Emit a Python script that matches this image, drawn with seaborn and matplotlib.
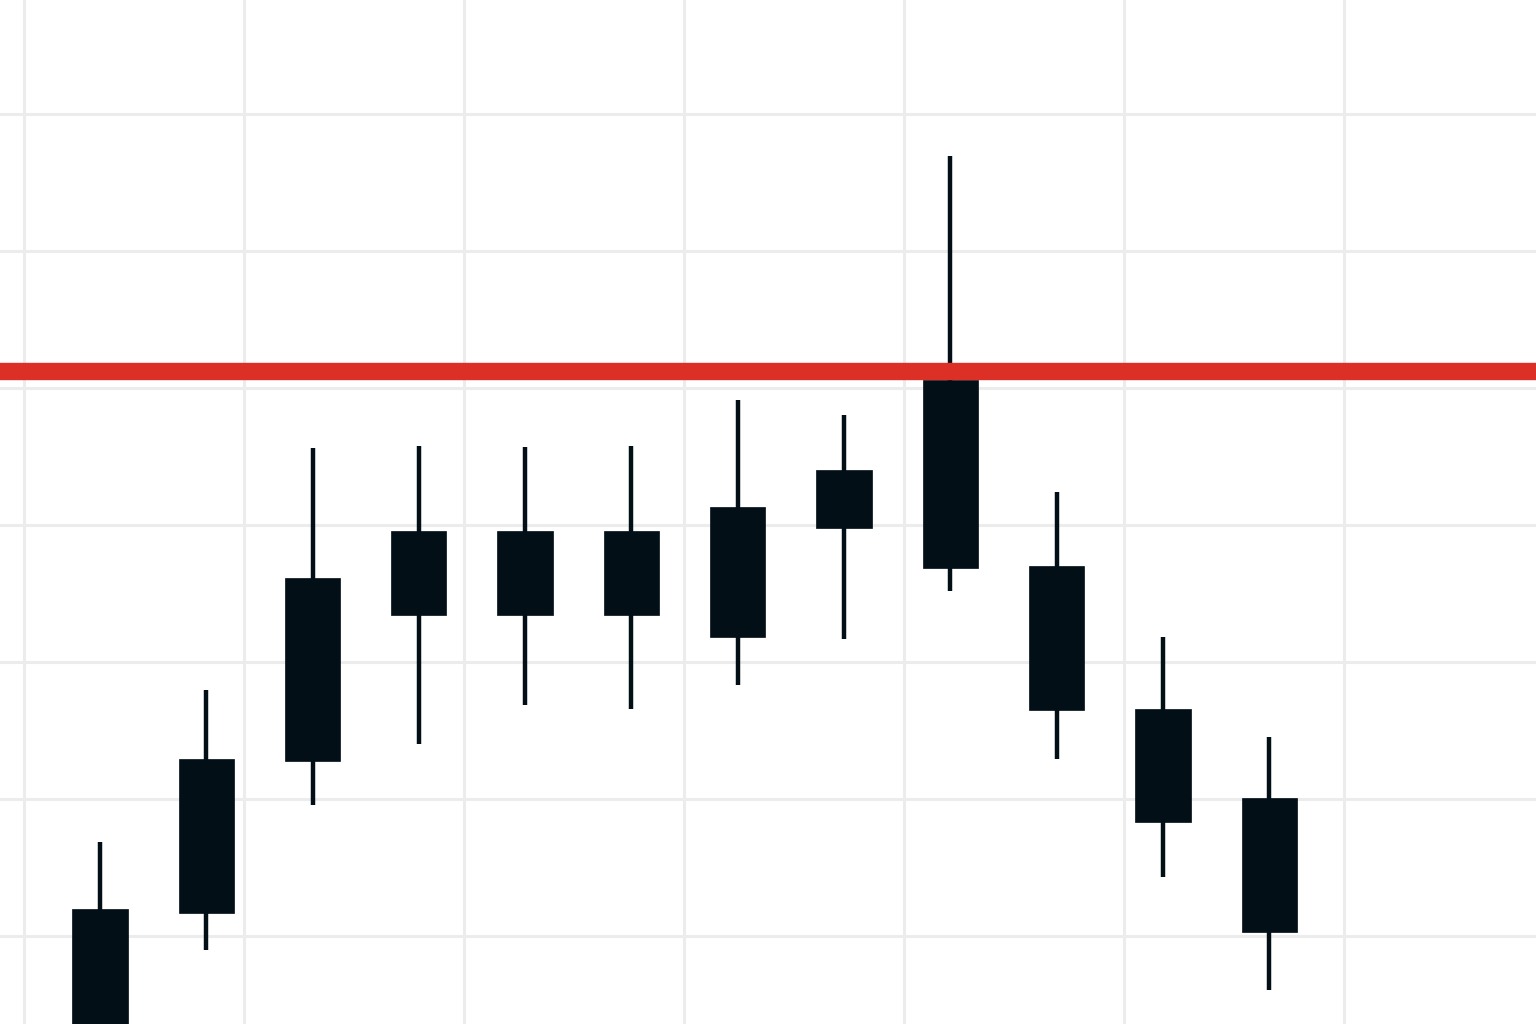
import numpy as np
import pandas as pd
import seaborn as sns
import matplotlib.pyplot as plt

# candle data
opens = [92.4, 101.7, 112.8, 123.4, 123.4, 123.4, 121.8, 129.8, 140.6, 127.0, 116.6, 110.1]
closes = [102.0, 112.9, 126.1, 129.6, 129.6, 129.6, 131.3, 134.0, 126.9, 116.5, 108.3, 100.3]
highs = [106.9, 118.0, 135.6, 135.8, 135.7, 135.8, 139.1, 138.0, 156.9, 132.4, 121.8, 114.5]
lows = [90.5, 99.0, 109.6, 114.0, 116.9, 116.6, 118.3, 121.7, 125.2, 112.9, 104.3, 96.1]
resistance = 141.2

df = pd.DataFrame({"open": opens, "close": closes, "high": highs, "low": lows})
df["x"] = np.arange(len(df))
df["bottom"] = df[["open", "close"]].min(axis=1)
df["height"] = (df["open"] - df["close"]).abs()

sns.set_theme(style="whitegrid", rc={"grid.color": "#ececec", "grid.linewidth": 2.2})

fig = plt.figure(figsize=(15.36, 10.24), dpi=100)
ax = fig.add_axes([0, 0, 1, 1])

body_color = "#020f16"
ax.vlines(df["x"], df["low"], df["high"], color=body_color, linewidth=3.2, zorder=2)
ax.bar(df["x"], df["height"], bottom=df["bottom"], width=0.52,
       color=body_color, edgecolor=body_color, linewidth=0.5, zorder=3)
ax.axhline(resistance, color="#dc2f25", linewidth=12.5, zorder=4)

# grid positions (ticks first, limits after so ticks don't widen the view)
ax.set_xticks(np.arange(-0.715, 14, 2.07))
ax.set_yticks(np.arange(100, 170, 10))
ax.set_xlim(-0.94, 13.51)
ax.set_ylim(93.6, 168.3)
ax.tick_params(labelbottom=False, labelleft=False, length=0)
ax.set_axisbelow(True)
sns.despine(ax=ax, left=True, bottom=True)

fig.savefig("out.png", dpi=100)
